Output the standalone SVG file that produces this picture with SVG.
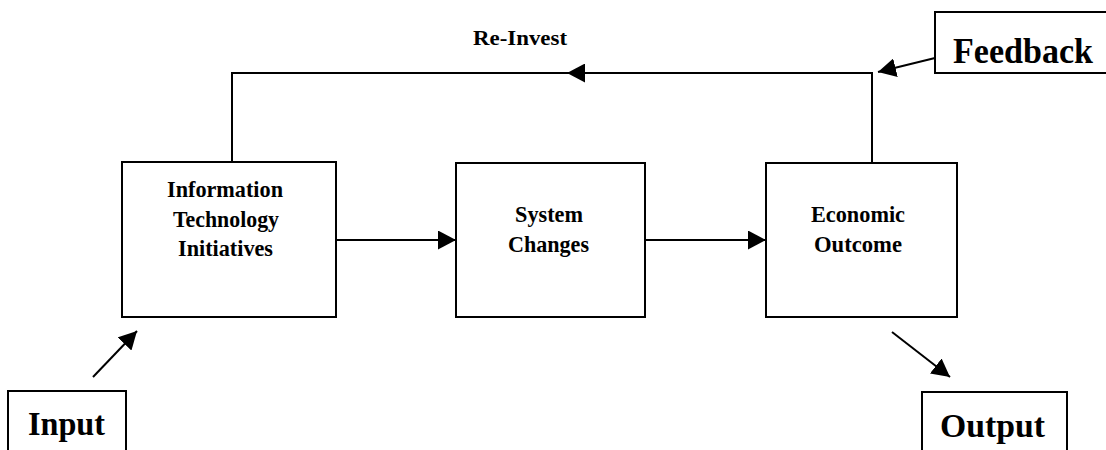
<svg xmlns="http://www.w3.org/2000/svg" width="1106" height="450" viewBox="0 0 1106 450">
<style>
.box{fill:#fff;stroke:#000;stroke-width:2}
.ln{fill:none;stroke:#000;stroke-width:2}
.t{font-family:"Liberation Serif","Times New Roman",serif;font-weight:bold;fill:#000;text-anchor:middle}
.s{font-size:23px}
.b{font-size:34px}
</style>
<defs>
<marker id="ah" viewBox="0 0 18 19" markerWidth="18" markerHeight="19" markerUnits="userSpaceOnUse" refX="18" refY="9.5" orient="auto">
<path d="M0,0 L18,9.5 L0,19 z" fill="#000"/>
</marker>
</defs>
<rect width="1106" height="450" fill="#fff"/>
<g id="connectors">
<path class="ln" d="M872,167 V73 H567" marker-end="url(#ah)"/>
<path class="ln" d="M570,73 H232 V167"/>
<line class="ln" x1="336" y1="240" x2="456" y2="240" marker-end="url(#ah)"/>
<line class="ln" x1="645" y1="240" x2="766" y2="240" marker-end="url(#ah)"/>
<line class="ln" x1="935" y1="58" x2="878" y2="72" marker-end="url(#ah)"/>
<line class="ln" x1="93" y1="377" x2="137" y2="331" marker-end="url(#ah)"/>
<line class="ln" x1="892" y1="332" x2="950" y2="377" marker-end="url(#ah)"/>
<text class="t" x="520" y="45" font-size="22" textLength="94" lengthAdjust="spacingAndGlyphs">Re-Invest</text>
</g>
<g id="it">
<rect class="box" x="122" y="162" width="214" height="155"/>
<text class="t s" x="225" y="197" textLength="116" lengthAdjust="spacingAndGlyphs">Information</text>
<text class="t s" x="226" y="227" textLength="106" lengthAdjust="spacingAndGlyphs">Technology</text>
<text class="t s" x="225.5" y="256" textLength="95" lengthAdjust="spacingAndGlyphs">Initiatives</text>
</g>
<g id="system">
<rect class="box" x="456" y="163" width="189" height="154"/>
<text class="t s" x="549" y="222" textLength="68" lengthAdjust="spacingAndGlyphs">System</text>
<text class="t s" x="548.5" y="252" textLength="81" lengthAdjust="spacingAndGlyphs">Changes</text>
</g>
<g id="economic">
<rect class="box" x="766" y="163" width="191" height="154"/>
<text class="t s" x="858" y="222" textLength="94" lengthAdjust="spacingAndGlyphs">Economic</text>
<text class="t s" x="858" y="252" textLength="88" lengthAdjust="spacingAndGlyphs">Outcome</text>
</g>
<g id="feedback">
<rect class="box" x="935" y="12" width="200" height="61"/>
<text class="t" x="1023" y="63" font-size="36" textLength="140" lengthAdjust="spacingAndGlyphs">Feedback</text>
</g>
<g id="input">
<rect class="box" x="8" y="391" width="118" height="80"/>
<text class="t b" x="66.5" y="435" textLength="77" lengthAdjust="spacingAndGlyphs">Input</text>
</g>
<g id="output">
<rect class="box" x="922" y="392" width="145" height="80"/>
<text class="t b" x="992.5" y="437" textLength="105" lengthAdjust="spacingAndGlyphs">Output</text>
</g>
</svg>
